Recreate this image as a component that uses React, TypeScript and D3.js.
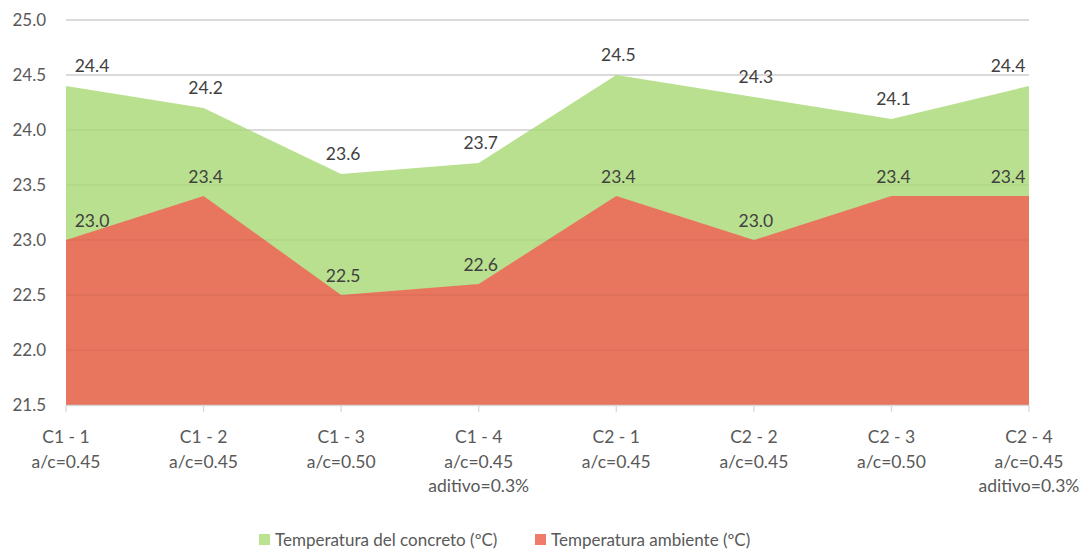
import React from "react";
import * as d3 from "d3";

const categories = [
  ["C1 - 1", "a/c=0.45"],
  ["C1 - 2", "a/c=0.45"],
  ["C1 - 3", "a/c=0.50"],
  ["C1 - 4", "a/c=0.45", "aditivo=0.3%"],
  ["C2 - 1", "a/c=0.45"],
  ["C2 - 2", "a/c=0.45"],
  ["C2 - 3", "a/c=0.50"],
  ["C2 - 4", "a/c=0.45", "aditivo=0.3%"],
];
const concreto = [24.4, 24.2, 23.6, 23.7, 24.5, 24.3, 24.1, 24.4];
const ambiente = [23.0, 23.4, 22.5, 22.6, 23.4, 23.0, 23.4, 23.4];
const yTicks = [21.5, 22.0, 22.5, 23.0, 23.5, 24.0, 24.5, 25.0];

const seriesNames = ["Temperatura del concreto (ºC)", "Temperatura ambiente (ºC)"];
const green = "#B9E08E";
const red = "#E8765E";
const textColor = "#404040";
const axisText = "#595959";
const font = "Lato, 'Open Sans', sans-serif";

const App: React.FC = () => {
  const W = 1090;
  const H = 552;
  const x = d3
    .scalePoint<number>()
    .domain(d3.range(categories.length))
    .range([66, 1029]);
  const y = d3.scaleLinear().domain([21.5, 25.0]).range([405, 20]);

  const areaGen = (vals: number[]) =>
    d3
      .area<number>()
      .x((_d, i) => x(i) as number)
      .y0(y(21.5))
      .y1((d) => y(d))(vals) as string;

  // edge labels are pushed inside the plot, like Excel does
  const labelX = (i: number) => {
    const px = x(i) as number;
    if (i === 0) return px + 26;
    if (i === categories.length - 1) return px - 21;
    return px + 2;
  };

  return (
    <svg width={W} height={H} style={{ position: "absolute", left: 0, top: 0 }}>
      <rect width={W} height={H} fill="#fff" />
      {/* gridlines */}
      {yTicks.map((t) => (
        <line
          key={t}
          x1={66}
          x2={1029}
          y1={y(t)}
          y2={y(t)}
          stroke="#d9d9d9"
          strokeWidth={1.3}
        />
      ))}
      <path d={areaGen(concreto)} fill={green} />
      <path d={areaGen(ambiente)} fill={red} />
      {/* faint gridlines showing through the areas */}
      {yTicks.map((t) => (
        <line
          key={"g" + t}
          x1={66}
          x2={1029}
          y1={y(t)}
          y2={y(t)}
          stroke="#000"
          strokeOpacity={0.05}
          strokeWidth={1.3}
        />
      ))}
      {/* x axis */}
      <line x1={66} x2={1029} y1={405.5} y2={405.5} stroke="#d9d9d9" strokeWidth={1.3} />
      {categories.map((_c, i) => (
        <line
          key={i}
          x1={x(i) as number}
          x2={x(i) as number}
          y1={405}
          y2={412}
          stroke="#d9d9d9"
          strokeWidth={1.3}
        />
      ))}
      {/* y labels */}
      {yTicks.map((t) => (
        <text
          key={t}
          x={46}
          y={y(t)}
          dy="0.35em"
          textAnchor="end"
          fontFamily={font}
          fontSize={17}
          fill={axisText}
        >
          {t.toFixed(1)}
        </text>
      ))}
      {/* x labels */}
      {categories.map((lines, i) => (
        <text
          key={i}
          x={x(i) as number}
          y={437}
          textAnchor="middle"
          fontFamily={font}
          fontSize={17.5}
          fill={axisText}
        >
          {lines.map((l, j) => (
            <tspan key={j} x={x(i) as number} dy={j === 0 ? "0.35em" : 24.5}>
              {l}
            </tspan>
          ))}
        </text>
      ))}
      {/* data labels */}
      {concreto.map((v, i) => (
        <text
          key={"c" + i}
          x={labelX(i)}
          y={y(v) - 20}
          dy="0.35em"
          textAnchor="middle"
          fontFamily={font}
          fontSize={17.5}
          fill={textColor}
        >
          {v.toFixed(1)}
        </text>
      ))}
      {ambiente.map((v, i) => (
        <text
          key={"a" + i}
          x={labelX(i)}
          y={y(v) - 19}
          dy="0.35em"
          textAnchor="middle"
          fontFamily={font}
          fontSize={17.5}
          fill={textColor}
        >
          {v.toFixed(1)}
        </text>
      ))}
      {/* legend */}
      <rect x={259} y={534} width={11} height={11} fill="#BCE38F" />
      <text x={275} y={540} dy="0.35em" fontFamily={font} fontSize={17} fill={axisText}>
        {seriesNames[0]}
      </text>
      <rect x={535} y={534} width={11} height={11} fill="#EF7B69" />
      <text x={551} y={540} dy="0.35em" fontFamily={font} fontSize={17} fill={axisText}>
        {seriesNames[1]}
      </text>
    </svg>
  );
};

export default App;
